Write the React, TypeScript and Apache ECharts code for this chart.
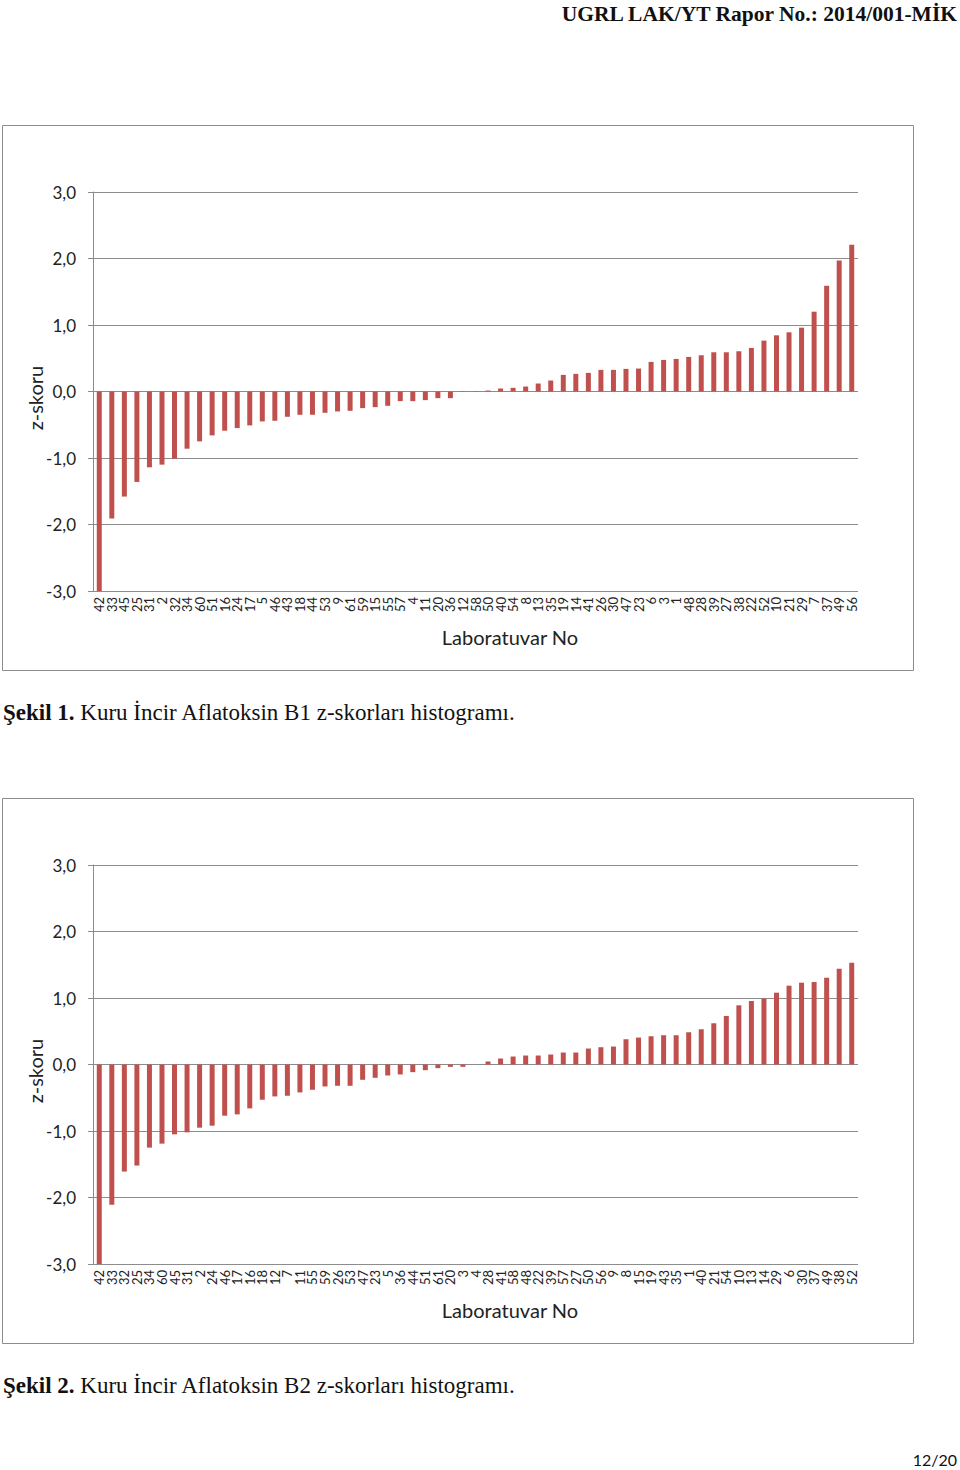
import React, { useEffect, useRef } from "react";
import * as echarts from "echarts";

const labs1 = ["42","33","45","25","31","2","32","34","60","51","16","24","17","5","46","43","18","44","53","9","61","59","15","55","57","4","11","20","36","12","58","50","40","54","8","13","35","19","14","41","26","30","47","23","6","3","1","48","28","39","27","38","22","52","10","21","29","7","37","49","56"];
const vals1 = [-3.01,-1.91,-1.58,-1.36,-1.14,-1.1,-1.01,-0.86,-0.75,-0.66,-0.59,-0.55,-0.51,-0.45,-0.44,-0.38,-0.35,-0.35,-0.32,-0.3,-0.29,-0.25,-0.235,-0.215,-0.145,-0.145,-0.13,-0.1,-0.1,-0.005,0.005,0.015,0.045,0.055,0.075,0.12,0.165,0.25,0.265,0.28,0.325,0.325,0.34,0.345,0.445,0.475,0.49,0.52,0.545,0.59,0.59,0.605,0.655,0.765,0.845,0.89,0.96,1.2,1.59,1.97,2.205];

const labs2 = ["42","33","32","25","34","60","45","31","2","24","46","17","16","18","12","7","11","55","59","26","53","47","23","5","36","44","51","61","20","3","4","28","41","58","48","22","39","57","27","50","56","9","8","15","19","43","35","1","40","21","54","10","13","14","29","6","30","37","49","38","52"];
const vals2 = [-3.02,-2.11,-1.61,-1.52,-1.25,-1.19,-1.05,-1.02,-0.95,-0.92,-0.77,-0.75,-0.66,-0.53,-0.48,-0.47,-0.42,-0.38,-0.33,-0.32,-0.32,-0.23,-0.2,-0.165,-0.15,-0.115,-0.085,-0.055,-0.035,-0.035,0,0.045,0.09,0.12,0.135,0.135,0.15,0.18,0.18,0.24,0.26,0.27,0.38,0.405,0.425,0.44,0.44,0.485,0.53,0.62,0.73,0.89,0.955,0.99,1.08,1.185,1.23,1.24,1.305,1.44,1.53];

const header = "UGRL LAK/YT Rapor No.: 2014/001-MİK";
const caption1Bold = "Şekil 1.";
const caption1 = " Kuru İncir Aflatoksin B1 z-skorları histogramı.";
const caption2Bold = "Şekil 2.";
const caption2 = " Kuru İncir Aflatoksin B2 z-skorları histogramı.";
const pageNo = "12/20";
const xName = "Laboratuvar No";
const yName = "z-skoru";

const FONT = "Lato";
const SERIF = "'Liberation Serif', 'Times New Roman', serif";
const BAR = "#C0504D";
const GRID = "#8C8C8C";

export default function App() {
  const ref = useRef<HTMLDivElement>(null);
  useEffect(() => {
    if (!ref.current) return;
    const chart = echarts.init(ref.current, null, { renderer: "svg" });
    const tops = [192, 865];
    const grids = tops.map((t) => ({ left: 93, top: t, width: 765, height: 399 }));
    const xAxis = [labs1, labs2].map((labs, i) => ({
      type: "category",
      gridIndex: i,
      data: labs,
      position: "bottom",
      axisLine: { show: false },
      axisTick: { show: false },
      axisLabel: {
        interval: 0,
        rotate: 90,
        fontFamily: FONT,
        fontSize: 13,
        color: "#222",
        margin: 6,
      },
    }));
    const yAxis = [0, 1].map((i) => ({
      type: "value",
      gridIndex: i,
      min: -3,
      max: 3,
      interval: 1,
      axisLine: { show: true, lineStyle: { color: GRID, width: 1 } },
      axisTick: { show: true, length: 5, lineStyle: { color: GRID } },
      splitLine: { show: true, lineStyle: { color: GRID, width: 1 } },
      axisLabel: {
        fontFamily: FONT,
        fontSize: 17,
        color: "#222",
        margin: 17,
        formatter: (v: number) => v.toFixed(1).replace(".", ","),
      },
    }));
    const series = [vals1, vals2].map((vals, i) => ({
      type: "bar",
      xAxisIndex: i,
      yAxisIndex: i,
      data: vals,
      barWidth: 5,
      itemStyle: { color: BAR },
    }));
    const frameTops = [125.5, 798.5];
    const capY = [712, 1385];
    const caps = [
      [caption1Bold, caption1],
      [caption2Bold, caption2],
    ];
    const graphic: any[] = [];
    [0, 1].forEach((i) => {
      graphic.push({
        type: "rect",
        shape: { x: 2.5, y: frameTops[i], width: 911, height: 545 },
        style: { fill: "none", stroke: "#8C8C8C", lineWidth: 1 },
        silent: true,
      });
      graphic.push({
        type: "text",
        x: 510,
        y: tops[i] + 445,
        style: {
          text: xName,
          align: "center",
          verticalAlign: "middle",
          font: `20px ${FONT}`,
          fill: "#222",
        },
      });
      graphic.push({
        type: "text",
        x: 35,
        y: tops[i] + 206,
        rotation: Math.PI / 2,
        style: {
          text: yName,
          align: "center",
          verticalAlign: "middle",
          font: `20px ${FONT}`,
          fill: "#222",
        },
      });
      graphic.push({
        type: "text",
        x: 3,
        y: capY[i],
        style: {
          text: `{b|${caps[i][0]}}{n|${caps[i][1]}}`,
          verticalAlign: "middle",
          rich: {
            b: { font: `bold 23px ${SERIF}`, fill: "#111" },
            n: { font: `23px ${SERIF}`, fill: "#111" },
          },
        },
      });
    });
    graphic.push({
      type: "text",
      x: 957,
      y: 14,
      style: {
        text: header,
        align: "right",
        verticalAlign: "middle",
        font: `bold 21.5px ${SERIF}`,
        fill: "#111",
      },
    });
    graphic.push({
      type: "text",
      x: 957,
      y: 1459,
      style: {
        text: pageNo,
        align: "right",
        verticalAlign: "middle",
        font: `16px ${FONT}`,
        fill: "#111",
      },
    });
    chart.setOption({
      animation: false,
      grid: grids,
      xAxis,
      yAxis,
      series,
      graphic,
    });
    return () => chart.dispose();
  }, []);
  return (
    <div
      ref={ref}
      style={{ position: "absolute", left: 0, top: 0, width: 960, height: 1470, background: "#fff" }}
    />
  );
}
